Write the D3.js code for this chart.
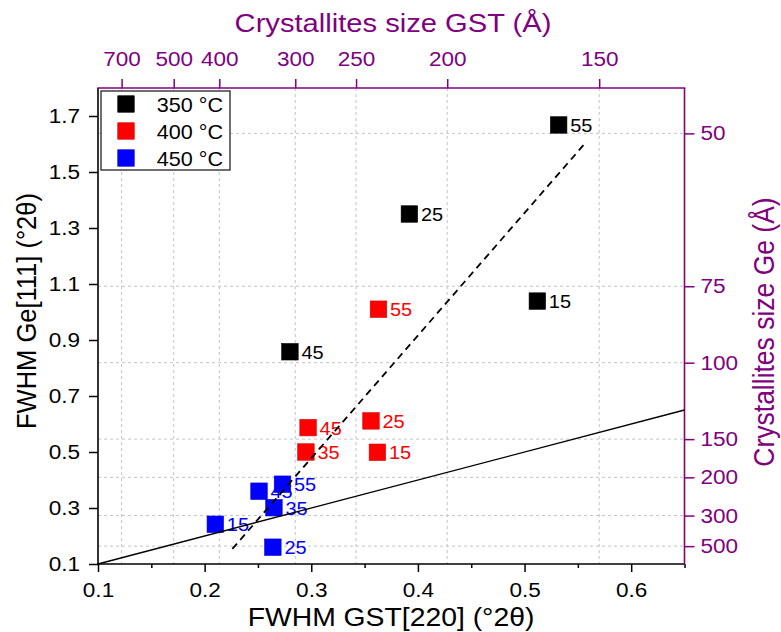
<!DOCTYPE html>
<html><head><meta charset="utf-8">
<script src="https://cdn.jsdelivr.net/npm/d3@7"></script>
<style>
body{margin:0;background:#fff}
text{font-family:"Liberation Sans",Arial,sans-serif}
</style>
</head><body><svg id="c" width="781" height="632"></svg>
<script>
// ---------- data ----------
const series = ["350 °C", "400 °C", "450 °C"];
const seriesColors = ["#000000", "#ff0000", "#0000ff"];

const labels350 = ["55", "25", "15", "45"];
const gst350 = [0.532, 0.392, 0.512, 0.280];
const ge350  = [1.668, 1.350, 1.039, 0.858];

const labels400 = ["55", "45", "35", "25", "15"];
const gst400 = [0.363, 0.297, 0.295, 0.356, 0.362];
const ge400  = [1.010, 0.587, 0.500, 0.611, 0.499];

const labels450 = ["45", "55", "35", "15", "25"];
const gst450 = [0.251, 0.273, 0.265, 0.210, 0.264];
const ge450  = [0.360, 0.385, 0.301, 0.242, 0.160];

// dashed linear fit and solid y = x reference
const fitX = [0.226, 0.558];
const fitY = [0.154, 1.608];
const refX = [0.1, 0.65];
const refY = [0.1, 0.65];

const xTicks = [0.1, 0.2, 0.3, 0.4, 0.5, 0.6];
const xMinorTicks = [0.15, 0.25, 0.35, 0.45, 0.55, 0.65];
const yTicks = [0.1, 0.3, 0.5, 0.7, 0.9, 1.1, 1.3, 1.5, 1.7];
const gstSizeTicks = [700, 500, 400, 300, 250, 200, 150];
const geSizeTicks = [50, 75, 100, 150, 200, 300, 500];
// Scherrer constants (FWHM = K / size)
const gstK = 85.5;
const geK = 81.9;

// ---------- layout ----------
const L = 98, R = 684.5, T = 88, B = 564;
const SX = 1.1; // horizontal text stretch
const purple = "#800080";
const svg = d3.select("#c");

const x = d3.scaleLinear().domain([0.1, 0.65]).range([L, R]);
const y = d3.scaleLinear().domain([0.1, 1.8]).range([B, T]);
const xTop = d3.scaleLinear().domain(gstSizeTicks).range(gstSizeTicks.map(s => x(gstK / s)));
const yRight = d3.scaleLinear().domain(geSizeTicks).range(geSizeTicks.map(s => y(geK / s)));

// grid
const grid = svg.append("g").attr("stroke", "#c4c4c4").attr("stroke-width", 1).attr("stroke-dasharray", "3,3");
grid.selectAll(".gv").data(gstSizeTicks).join("line")
  .attr("x1", d => xTop(d)).attr("x2", d => xTop(d)).attr("y1", T).attr("y2", B);
grid.selectAll(".gh").data(geSizeTicks).join("line")
  .attr("y1", d => yRight(d)).attr("y2", d => yRight(d)).attr("x1", L).attr("x2", R);

// axes
function style(g, color, fs) {
  g.select(".domain").remove();
  g.selectAll(".tick line").attr("stroke", color).attr("stroke-width", 1.5);
  g.selectAll(".tick text").attr("fill", color).style("font-size", fs + "px")
    .each(function () {
      const t = d3.select(this);
      const x0 = +t.attr("x") || 0;
      t.attr("x", x0 / SX).attr("transform", `scale(${SX},1)`);
    });
}
svg.append("g").attr("transform", `translate(0,${B})`)
  .call(d3.axisBottom(x).tickValues(xMinorTicks).tickSize(4).tickFormat(""))
  .call(g => style(g, "#000", 20.5));
svg.append("g").attr("transform", `translate(0,${B})`)
  .call(d3.axisBottom(x).tickValues(xTicks).tickSize(8).tickPadding(10).tickFormat(d3.format(".1f")))
  .call(g => style(g, "#000", 20.5));
svg.append("g").attr("transform", `translate(${L},0)`)
  .call(d3.axisLeft(y).tickValues(yTicks).tickSize(9).tickPadding(9).tickFormat(d3.format(".1f")))
  .call(g => style(g, "#000", 20.5));
svg.append("g").attr("transform", `translate(0,${T})`)
  .call(d3.axisTop(xTop).tickValues(gstSizeTicks).tickSize(9).tickPadding(13).tickFormat(d3.format("d")))
  .call(g => style(g, purple, 20.5));
svg.append("g").attr("transform", `translate(${R},0)`)
  .call(d3.axisRight(yRight).tickValues(geSizeTicks).tickSize(10).tickPadding(6).tickFormat(d3.format("d")))
  .call(g => style(g, purple, 20.5));

// frame
svg.append("line").attr("x1", L).attr("x2", L).attr("y1", T).attr("y2", B + 0.75).attr("stroke", "#000").attr("stroke-width", 1.6);
svg.append("line").attr("x1", L - 0.75).attr("x2", R).attr("y1", B).attr("y2", B).attr("stroke", "#000").attr("stroke-width", 1.6);
svg.append("line").attr("x1", L - 0.75).attr("x2", R + 0.75).attr("y1", T).attr("y2", T).attr("stroke", purple).attr("stroke-width", 1.6);
svg.append("line").attr("x1", R).attr("x2", R).attr("y1", T).attr("y2", B).attr("stroke", purple).attr("stroke-width", 1.6);

// points
const groups = [
  {labels: labels350, xs: gst350, ys: ge350, color: seriesColors[0]},
  {labels: labels400, xs: gst400, ys: ge400, color: seriesColors[1]},
  {labels: labels450, xs: gst450, ys: ge450, color: seriesColors[2]}
];
const ms = 16.5;
const labLayer = svg.append("g");
const markLayer = svg.append("g");
groups.forEach(g => {
  const pts = g.labels.map((l, i) => ({l, x: g.xs[i], y: g.ys[i]}));
  labLayer.selectAll(null).data(pts).join("text")
    .attr("transform", d => `translate(${x(d.x) + 11.5},${y(d.y) + 7}) scale(1.05,1)`)
    .attr("fill", g.color).style("font-size", "19px").text(d => d.l);
  markLayer.selectAll(null).data(pts).join("rect")
    .attr("x", d => x(d.x) - ms / 2).attr("y", d => y(d.y) - ms / 2)
    .attr("width", ms).attr("height", ms).attr("fill", g.color)
    .attr("stroke", d3.color(g.color).darker(0.5)).attr("stroke-width", 0.6);
});

// lines
const line = d3.line().x(d => x(d[0])).y(d => y(d[1]));
svg.append("path").datum(refX.map((v, i) => [v, refY[i]])).attr("d", line)
  .attr("fill", "none").attr("stroke", "#000").attr("stroke-width", 1.3);
svg.append("path").datum(fitX.map((v, i) => [v, fitY[i]])).attr("d", line)
  .attr("fill", "none").attr("stroke", "#000").attr("stroke-width", 1.8).attr("stroke-dasharray", "7,5");

// legend
const lg = svg.append("g");
lg.append("rect").attr("x", 101).attr("y", 91).attr("width", 129).attr("height", 79)
  .attr("fill", "#fff").attr("stroke", "#333").attr("stroke-width", 1.4);
series.forEach((s, i) => {
  const cy = 104 + i * 27;
  lg.append("rect").attr("x", 126 - ms / 2).attr("y", cy - ms / 2).attr("width", ms).attr("height", ms)
    .attr("fill", seriesColors[i]).attr("stroke", d3.color(seriesColors[i]).darker(0.5)).attr("stroke-width", 0.6);
  lg.append("text").attr("transform", `translate(223,${cy + 7.5}) scale(1.08,1)`).attr("text-anchor", "end")
    .style("font-size", "20px").attr("fill", "#000").text(s);
});

// titles
svg.append("text").attr("transform", `translate(391,626) scale(${SX * 1.03},1)`).attr("text-anchor", "middle")
  .style("font-size", "25px").text("FWHM GST[220] (°2θ)");
svg.append("text").attr("transform", `translate(36,311) scale(${SX},1) rotate(-90)`).attr("text-anchor", "middle")
  .style("font-size", "25.5px").text("FWHM Ge[111] (°2θ)");
svg.append("text").attr("transform", `translate(393,32) scale(${SX},1)`).attr("text-anchor", "middle").attr("fill", purple)
  .style("font-size", "26.5px").text("Crystallites size GST (Å)");
svg.append("text").attr("transform", `translate(774,332) scale(${SX},1) rotate(-90)`).attr("text-anchor", "middle").attr("fill", purple)
  .style("font-size", "26.5px").text("Crystallites size Ge (Å)");
</script>
</body></html>
